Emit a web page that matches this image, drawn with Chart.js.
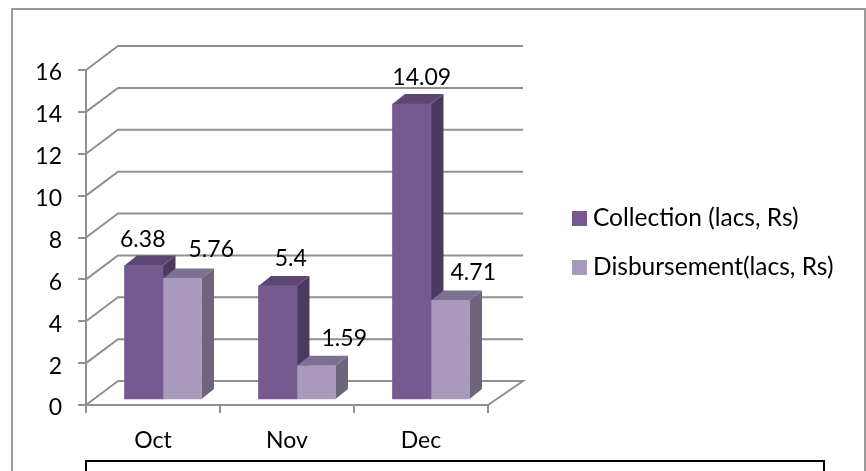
<!DOCTYPE html>
<html>
<head>
<meta charset="utf-8">
<style>html,body{margin:0;padding:0;background:#fff}canvas{display:block}</style>
<script src="https://cdn.jsdelivr.net/npm/chart.js@4/dist/chart.umd.min.js"></script>
</head>
<body>
<canvas id="c" width="866" height="471"></canvas>
<script>
const categories = ["Oct", "Nov", "Dec"];
const collection = [6.38, 5.4, 14.09];
const disbursement = [5.76, 1.59, 4.71];
const seriesNames = ["Collection (lacs, Rs)", "Disbursement(lacs, Rs)"];
const yTicks = [0, 2, 4, 6, 8, 10, 12, 14, 16];

const FONT = "Lato";
const SIZE = 23;
const LEGEND_SIZE = 24.5;
const GRID = "#909090";
const colors = [
  {front:"#75598F", top:"#5C4672", side:"#4B3A5F"},
  {front:"#A899BD", top:"#7E7091", side:"#6E647C"}
];
const labelShift = [
  [{dx:-1,dy:-18},{dx:13,dy:-20},{dx:10,dy:-19}],
  [{dx:29,dy:-21},{dx:28,dy:-20},{dx:23,dy:-20}]
];

function swatch(color){
  const s = document.createElement("canvas");
  s.width = 15; s.height = 15;
  const g = s.getContext("2d");
  g.fillStyle = color; g.fillRect(0,0,15,15);
  return s;
}

const scene = {
  id:"scene",
  beforeDraw(chart){
    const c = chart.ctx;
    c.save();
    c.strokeStyle = "#9A9A9A"; c.lineWidth = 2;
    c.strokeRect(12, 9, 853, 520);
    c.strokeStyle = "#000"; c.lineWidth = 2;
    c.strokeRect(86, 461, 738, 60);
    c.restore();
  },
  beforeDatasetsDraw(chart){
    const c = chart.ctx, a = chart.chartArea, y = chart.scales.y;
    c.save();
    c.strokeStyle = GRID; c.lineWidth = 2; c.lineJoin = "miter";
    yTicks.forEach(v=>{
      const p = y.getPixelForValue(v);
      c.beginPath();
      c.moveTo(a.left, p);
      c.lineTo(a.left+32, p-24);
      c.lineTo(a.right+35, p-24);
      if (v === 0) c.lineTo(a.right, p);
      c.stroke();
    });
    [0,1].forEach(i=>{
      chart.getDatasetMeta(i).data.forEach(el=>{
        const b = el.getProps(["x","y","base","width"], true);
        const l = b.x-b.width/2, r = b.x+b.width/2, dx = 12.5, dy = 10;
        c.fillStyle = colors[i].side;
        c.beginPath();
        c.moveTo(r,b.y); c.lineTo(r+dx,b.y-dy); c.lineTo(r+dx,b.base-dy); c.lineTo(r,b.base);
        c.closePath(); c.fill();
        c.fillStyle = colors[i].top;
        c.beginPath();
        c.moveTo(l,b.y); c.lineTo(l+dx,b.y-dy); c.lineTo(r+dx,b.y-dy); c.lineTo(r,b.y);
        c.closePath(); c.fill();
      });
    });
    c.restore();
  },
  afterDatasetsDraw(chart){
    const c = chart.ctx;
    c.save();
    c.font = SIZE+"px "+FONT; c.fillStyle = "#000";
    c.textAlign = "center"; c.textBaseline = "alphabetic";
    [collection, disbursement].forEach((vals,i)=>{
      chart.getDatasetMeta(i).data.forEach((el,j)=>{
        const b = el.getProps(["x","y"], true), s = labelShift[i][j];
        c.fillText(String(vals[j]), b.x+s.dx, b.y+s.dy);
      });
    });
    c.restore();
  },
  afterLayout(chart){
    const g = chart.legend;
    const pad = 49 - LEGEND_SIZE;
    g.left = 578.25 - pad; g.right = 866;
    g.top = 218.5 - LEGEND_SIZE/2 - pad; g.bottom = 420;
  }
};

new Chart(document.getElementById("c"), {
  type:"bar",
  data:{
    labels:categories,
    datasets:[
      {label:seriesNames[0], data:collection.map((v,i)=>({x:i,y:v})), backgroundColor:colors[0].front, xAxisID:"xBars", yAxisID:"yBars", barThickness:38.5},
      {label:seriesNames[1], data:disbursement.map((v,i)=>({x:i,y:v})), backgroundColor:colors[1].front, xAxisID:"xBars", yAxisID:"yBars", barThickness:38.5}
    ]
  },
  plugins:[scene],
  options:{
    responsive:false,
    animation:false,
    events:[],
    layout:{padding:{top:70,left:0,right:0,bottom:0}},
    plugins:{
      tooltip:{enabled:false},
      legend:{
        position:"right",
        align:"start",
        labels:{
          font:{family:FONT,size:LEGEND_SIZE},color:"#000",
          usePointStyle:true,pointStyleWidth:2.5,padding:49-LEGEND_SIZE,
          generateLabels(chart){
            return Chart.defaults.plugins.legend.labels.generateLabels(chart)
              .map((it,i)=>Object.assign(it,{pointStyle:swatch(colors[i].front)}));
          }
        }
      }
    },
    scales:{
      x:{
        type:"category",
        grid:{offset:true,color:GRID,lineWidth:2,tickLength:8,drawOnChartArea:false},
        border:{color:GRID,width:2},
        ticks:{font:{family:FONT,size:SIZE},color:"#000",padding:14,maxRotation:0},
        afterFit(s){s.height=66;}
      },
      y:{
        min:0,max:16,position:"left",
        afterBuildTicks(s){s.ticks=yTicks.map(v=>({value:v}));},
        grid:{color:GRID,lineWidth:2,tickLength:8,drawOnChartArea:false},
        border:{color:GRID,width:2},
        ticks:{font:{family:FONT,size:SIZE},color:"#000",padding:16,labelOffset:3},
        afterFit(s){s.width=86;}
      },
      xBars:{type:"linear",axis:"x",display:false,offset:false,min:-0.5746,max:2.4254},
      yBars:{
        axis:"y",position:"right",min:-0.2866,max:15.7134,
        ticks:{display:false},grid:{display:false},border:{display:false},
        afterFit(s){s.width=378-s.chart.legend.width;}
      }
    }
  }
});
</script>
</body>
</html>
